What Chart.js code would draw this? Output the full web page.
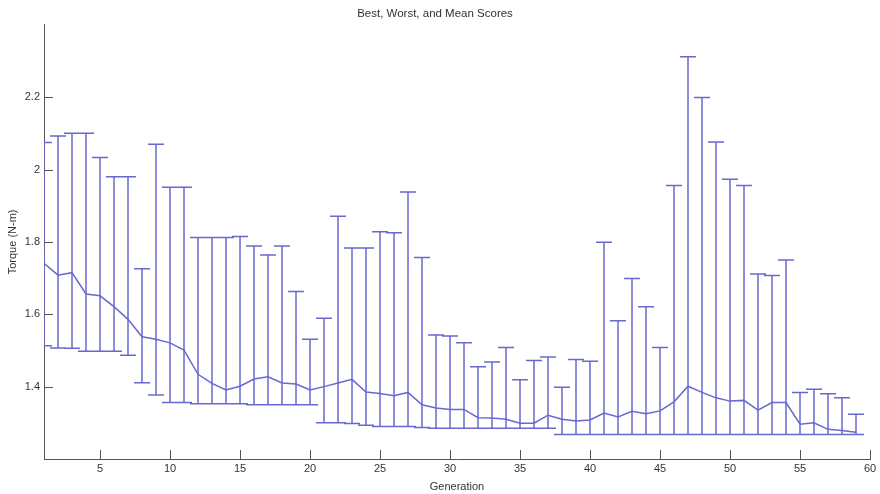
<!DOCTYPE html>
<html>
<head>
<meta charset="utf-8">
<title>Best, Worst, and Mean Scores</title>
<script src="https://cdn.jsdelivr.net/npm/chart.js@4/dist/chart.umd.min.js"></script>
<style>
    body { margin: 0; background: #fff; }
    #wrap { width: 880px; height: 494px; }
</style>
</head>
<body>
<div id="wrap"><canvas id="scores-chart" width="880" height="494"></canvas></div>
<script>
"use strict";

// generation number, one entry per error bar
const generations = [
    1, 2, 3, 4, 5, 6, 7, 8, 9, 10,
    11, 12, 13, 14, 15, 16, 17, 18, 19, 20,
    21, 22, 23, 24, 25, 26, 27, 28, 29, 30,
    31, 32, 33, 34, 35, 36, 37, 38, 39, 40,
    41, 42, 43, 44, 45, 46, 47, 48, 49, 50,
    51, 52, 53, 54, 55, 56, 57, 58, 59
];

// worst score (top of each bar)
const worstScores = [
    2.075, 2.093, 2.100, 2.100, 2.033, 1.980, 1.980, 1.726, 2.070, 1.951,
    1.951, 1.812, 1.812, 1.812, 1.815, 1.789, 1.764, 1.789, 1.663, 1.531,
    1.589, 1.871, 1.783, 1.783, 1.828, 1.825, 1.938, 1.757, 1.543, 1.540,
    1.521, 1.455, 1.468, 1.508, 1.419, 1.472, 1.482, 1.398, 1.475, 1.470,
    1.799, 1.582, 1.699, 1.621, 1.508, 1.956, 2.312, 2.199, 2.076, 1.973,
    1.956, 1.711, 1.707, 1.750, 1.384, 1.393, 1.380, 1.369, 1.324
];

// mean score (the line)
const meanScores = [
    1.741, 1.708, 1.715, 1.656, 1.651, 1.621, 1.586, 1.538, 1.531, 1.521,
    1.501, 1.434, 1.409, 1.391, 1.401, 1.421, 1.427, 1.410, 1.407, 1.391,
    1.400, 1.410, 1.420, 1.385, 1.381, 1.375, 1.384, 1.350, 1.341, 1.337,
    1.337, 1.314, 1.313, 1.310, 1.299, 1.299, 1.321, 1.310, 1.305, 1.308,
    1.327, 1.316, 1.332, 1.325, 1.333, 1.358, 1.401, 1.384, 1.369, 1.360,
    1.362, 1.335, 1.356, 1.356, 1.296, 1.300, 1.282, 1.279, 1.274
];

// best score (bottom of each bar)
const bestScores = [
    1.513, 1.507, 1.506, 1.498, 1.498, 1.498, 1.487, 1.411, 1.377, 1.356,
    1.356, 1.353, 1.353, 1.353, 1.353, 1.350, 1.350, 1.350, 1.350, 1.350,
    1.300, 1.300, 1.298, 1.293, 1.290, 1.290, 1.290, 1.287, 1.285, 1.285,
    1.285, 1.285, 1.285, 1.285, 1.285, 1.285, 1.285, 1.268, 1.268, 1.268,
    1.268, 1.268, 1.268, 1.268, 1.268, 1.268, 1.268, 1.268, 1.268, 1.268,
    1.268, 1.268, 1.268, 1.268, 1.268, 1.268, 1.268, 1.268, 1.268
];

const xTicks = [5, 10, 15, 20, 25, 30, 35, 40, 45, 50, 55, 60];
const yTicks = [1.4, 1.6, 1.8, 2.0, 2.2];

document.addEventListener("DOMContentLoaded", function(event) {

    const lineColor = "#6868cf";
    const axisColor = "#555";
    const textColor = "#333";
    const fontName = "'Liberation Sans', Arial, sans-serif";
    const capHalf = 8;
    const tickLen = 9;
    let chartHtml = document.getElementById("scores-chart");

    // matlab style errorbars, drawn with the chart's own scales
    const errorBars = {
        id: "errorBars",
        afterDatasetsDraw(chart) {
            let ctx = chart.ctx;
            let xs = chart.scales.x;
            let ys = chart.scales.y;
            let area = chart.chartArea;
            ctx.save();
            ctx.beginPath();
            ctx.rect(area.left, area.top, area.right - area.left, area.bottom - area.top + 1);
            ctx.clip();
            ctx.strokeStyle = lineColor;
            ctx.lineWidth = 1.5;
            ctx.beginPath();
            for (let i = 0; i < generations.length; i++) {
                let px = xs.getPixelForValue(generations[i]);
                let top = ys.getPixelForValue(worstScores[i]);
                let bot = ys.getPixelForValue(bestScores[i]);
                ctx.moveTo(px, top);
                ctx.lineTo(px, bot);
                ctx.moveTo(px - capHalf, top);
                ctx.lineTo(px + capHalf, top);
                ctx.moveTo(px - capHalf, bot);
                ctx.lineTo(px + capHalf, bot);
            }
            ctx.stroke();
            ctx.restore();
        }
    };

    // tick marks pointing into the plot
    const inwardTicks = {
        id: "inwardTicks",
        afterDraw(chart) {
            let ctx = chart.ctx;
            let area = chart.chartArea;
            let xs = chart.scales.x;
            let ys = chart.scales.y;
            ctx.save();
            ctx.strokeStyle = axisColor;
            ctx.lineWidth = 1;
            ctx.beginPath();
            xs.ticks.forEach(function(t) {
                let px = Math.round(xs.getPixelForValue(t.value)) + 0.5;
                ctx.moveTo(px, area.bottom);
                ctx.lineTo(px, area.bottom - tickLen);
            });
            ys.ticks.forEach(function(t) {
                let py = Math.round(ys.getPixelForValue(t.value)) + 0.5;
                ctx.moveTo(area.left, py);
                ctx.lineTo(area.left + tickLen, py);
            });
            ctx.stroke();
            ctx.restore();
        }
    };

    function makeChart() {
        let chart = new Chart(chartHtml, {
            type: "line",
            data: {
                datasets: [{
                    label: "Mean",
                    data: generations.map(function(g, i) { return {x: g, y: meanScores[i]}; }),
                    borderColor: lineColor,
                    borderWidth: 1.5,
                    pointRadius: 0,
                    tension: 0,
                    fill: false
                }]
            },
            options: {
                responsive: false,
                animation: false,
                layout: {
                    padding: {top: 0, right: 10, bottom: 0, left: 0}
                },
                plugins: {
                    legend: { display: false },
                    tooltip: { enabled: false },
                    title: {
                        display: true,
                        text: "Best, Worst, and Mean Scores",
                        color: textColor,
                        font: { family: fontName, size: 11.5, weight: "normal" },
                        padding: { top: 7, bottom: 4 }
                    }
                },
                scales: {
                    x: {
                        type: "linear",
                        min: 1,
                        max: 60,
                        afterBuildTicks: function(scale) {
                            scale.ticks = xTicks.map(function(v) { return {value: v}; });
                        },
                        afterFit: function(scale) {
                            scale.height = 35;
                        },
                        grid: { display: false, drawTicks: false },
                        border: { display: true, color: axisColor, width: 1 },
                        ticks: {
                            autoSkip: false,
                            maxRotation: 0,
                            padding: 3,
                            color: textColor,
                            font: { family: fontName, size: 11 }
                        },
                        title: {
                            display: true,
                            text: "Generation",
                            color: textColor,
                            font: { family: fontName, size: 11 },
                            padding: { top: 0, bottom: 0 }
                        }
                    },
                    y: {
                        min: 1.2,
                        max: 2.4,
                        afterBuildTicks: function(scale) {
                            scale.ticks = yTicks.map(function(v) { return {value: v}; });
                        },
                        afterFit: function(scale) {
                            scale.width = 44;
                        },
                        grid: { display: false, drawTicks: false },
                        border: { display: true, color: axisColor, width: 1 },
                        ticks: {
                            padding: 4,
                            color: textColor,
                            font: { family: fontName, size: 11 },
                            callback: function(v) { return String(Math.round(v * 10) / 10); }
                        },
                        title: {
                            display: true,
                            text: "Torque (N-m)",
                            color: textColor,
                            font: { family: fontName, size: 11 },
                            padding: { top: 6, bottom: 0 }
                        }
                    }
                }
            },
            plugins: [errorBars, inwardTicks]
        });
        return chart;
    }

    makeChart();
});
</script>
</body>
</html>
